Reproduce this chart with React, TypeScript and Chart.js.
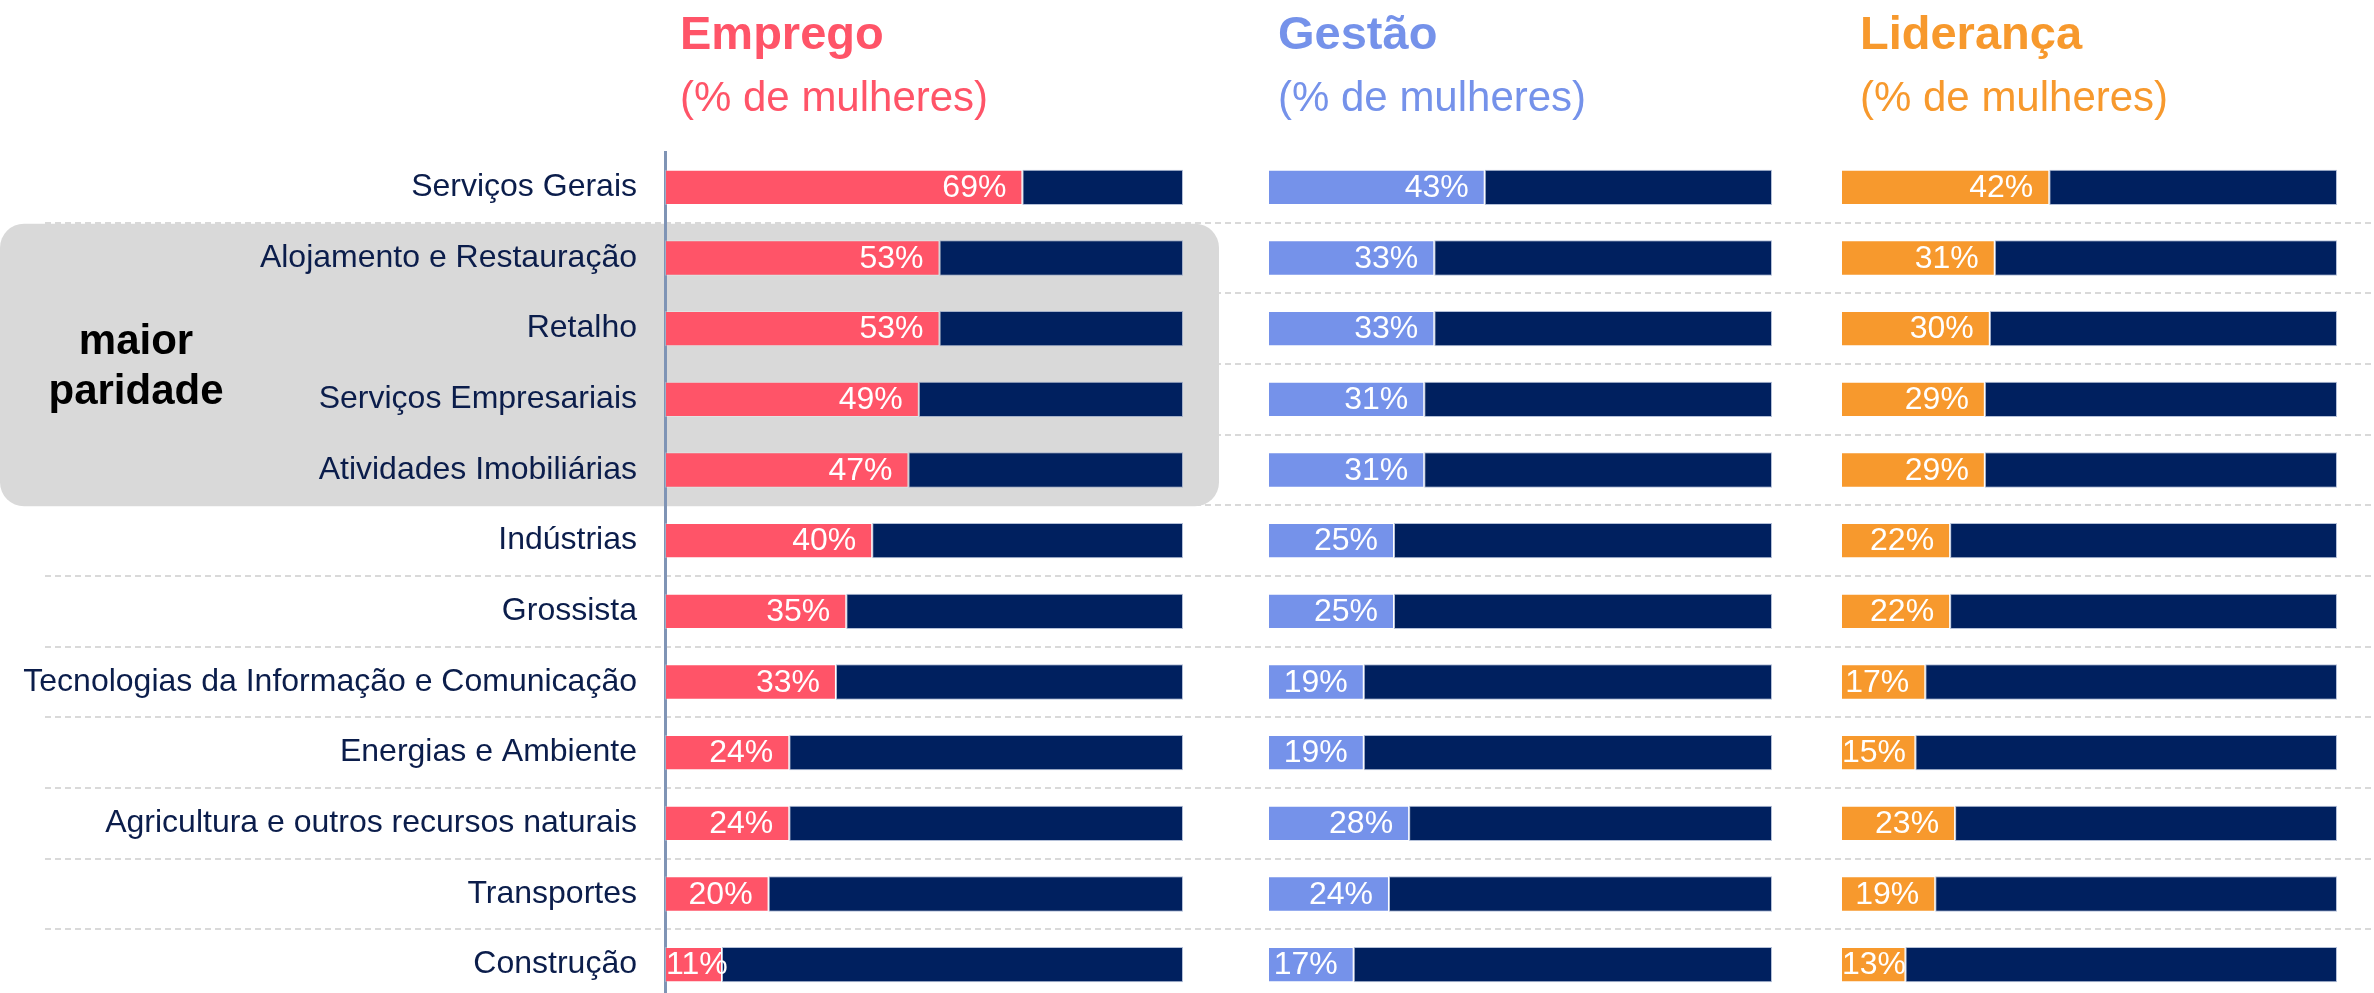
import React, { useEffect, useRef } from 'react';
import { Chart, registerables } from 'chart.js';

Chart.register(...registerables);

const categories = [
  'Serviços Gerais',
  'Alojamento e Restauração',
  'Retalho',
  'Serviços Empresariais',
  'Atividades Imobiliárias',
  'Indústrias',
  'Grossista',
  'Tecnologias da Informação e Comunicação',
  'Energias e Ambiente',
  'Agricultura e outros recursos naturais',
  'Transportes',
  'Construção',
];

const empregoValues = [69, 53, 53, 49, 47, 40, 35, 33, 24, 24, 20, 11];
const gestaoValues = [43, 33, 33, 31, 31, 25, 25, 19, 19, 28, 24, 17];
const liderancaValues = [42, 31, 30, 29, 29, 22, 22, 17, 15, 23, 19, 13];

const panelTitles = ['Emprego', 'Gestão', 'Liderança'];
const panelSubtitle = '(% de mulheres)';
const highlightText = ['maior', 'paridade'];
const highlightFirstRow = 1;
const highlightLastRow = 4;

const FONT = '"Liberation Sans", Arial, Helvetica, sans-serif';
const NAVY = '#00205f';
const LABEL_COLOR = '#0b1d4b';
const AXIS_COLOR = '#7f94b5';
const GRID_COLOR = '#d9d9d9';
const BOX_COLOR = '#d9d9d9';

const panels = [
  { id: 'xE', title: panelTitles[0], values: empregoValues, color: '#ff5468', max: 116.41, weight: 603, titleOffset: 15 },
  { id: 'xG', title: panelTitles[1], values: gestaoValues, color: '#7592ea', max: 113.69, weight: 573, titleOffset: 10 },
  { id: 'xL', title: panelTitles[2], values: liderancaValues, color: '#f7992d', max: 107.46, weight: 533, titleOffset: 19 },
];

const backgroundPlugin = {
  id: 'bgDecor',
  beforeDraw(chart: any) {
    const { ctx } = chart;
    const y = chart.scales.y;
    const seps: number[] = [];
    for (let i = 0; i < categories.length - 1; i++) {
      seps.push((y.getPixelForValue(i) + y.getPixelForValue(i + 1)) / 2);
    }
    ctx.save();
    ctx.strokeStyle = GRID_COLOR;
    ctx.lineWidth = 2;
    ctx.setLineDash([6, 4]);
    seps.forEach((s) => {
      ctx.beginPath();
      ctx.moveTo(45, Math.round(s));
      ctx.lineTo(chart.width, Math.round(s));
      ctx.stroke();
    });
    ctx.setLineDash([]);
    // highlight box
    const top = seps[highlightFirstRow - 1] + 1;
    const bottom = seps[highlightLastRow] + 1;
    const right = chart.scales.xE.getPixelForValue(100) + 36;
    ctx.fillStyle = BOX_COLOR;
    ctx.beginPath();
    (ctx as any).roundRect(0, top, right, bottom - top, 24);
    ctx.fill();
    const cy = (top + bottom) / 2;
    ctx.fillStyle = '#000000';
    ctx.font = `bold 42px ${FONT}`;
    ctx.textAlign = 'center';
    ctx.textBaseline = 'alphabetic';
    ctx.fillText(highlightText[0], 136, cy - 11);
    ctx.fillText(highlightText[1], 136, cy + 39);
    ctx.restore();
  },
};

const labelsPlugin = {
  id: 'shareLabels',
  afterDatasetsDraw(chart: any) {
    const { ctx } = chart;
    ctx.save();
    ctx.font = `32px ${FONT}`;
    ctx.fillStyle = '#ffffff';
    ctx.textAlign = 'left';
    ctx.textBaseline = 'middle';
    chart.data.datasets.forEach((ds: any, i: number) => {
      if (!ds.isShare) return;
      const meta = chart.getDatasetMeta(i);
      meta.data.forEach((bar: any, j: number) => {
        const text = `${ds.data[j]}%`;
        const w = ctx.measureText(text).width;
        const start = Math.min(bar.base, bar.x);
        const end = Math.max(bar.base, bar.x);
        const x = Math.max(start + 1, end - 16 - w);
        ctx.fillText(text, x, bar.y + 1);
      });
    });
    ctx.restore();
  },
  afterDraw(chart: any) {
    const { ctx } = chart;
    ctx.save();
    ctx.textAlign = 'left';
    ctx.textBaseline = 'alphabetic';
    panels.forEach((p) => {
      const left = chart.scales[p.id].getPixelForValue(0) + p.titleOffset;
      ctx.fillStyle = p.color;
      ctx.font = `bold 47px ${FONT}`;
      ctx.fillText(p.title, left, 49);
      ctx.font = `42px ${FONT}`;
      ctx.fillText(panelSubtitle, left, 111);
    });
    ctx.restore();
  },
};

export default function App() {
  const canvasRef = useRef<HTMLCanvasElement | null>(null);

  useEffect(() => {
    document.body.style.margin = '0';
    document.body.style.overflow = 'hidden';
    const canvas = canvasRef.current;
    if (!canvas) return;

    const datasets: any[] = [];
    panels.forEach((p) => {
      datasets.push({
        label: p.title,
        data: p.values,
        xAxisID: p.id,
        yAxisID: 'y',
        stack: 'all',
        isShare: true,
        backgroundColor: p.color,
        borderColor: 'rgba(255,255,255,0.25)',
        borderWidth: 1,
        borderSkipped: false,
        barPercentage: 0.5,
        categoryPercentage: 1,
      });
      datasets.push({
        label: p.title + ' (homens)',
        data: p.values.map((v) => 100 - v),
        xAxisID: p.id,
        yAxisID: 'y',
        stack: 'all',
        backgroundColor: NAVY,
        borderColor: 'rgba(130,150,190,0.6)',
        borderWidth: 1,
        borderSkipped: false,
        barPercentage: 0.5,
        categoryPercentage: 1,
      });
    });

    const scales: any = {
      y: {
        type: 'category',
        stacked: true,
        offset: true,
        grid: { display: false, drawTicks: false },
        border: { display: true, color: AXIS_COLOR, width: 3 },
        ticks: {
          color: LABEL_COLOR,
          font: { family: FONT, size: 32 },
          padding: 28,
          autoSkip: false,
        },
        afterFit: (s: any) => {
          s.width = 665;
          s.paddingTop = 0;
          s.paddingBottom = 0;
        },
      },
    };
    panels.forEach((p) => {
      scales[p.id] = {
        type: 'linear',
        axis: 'x',
        position: 'bottom',
        stack: 'panels',
        stackWeight: p.weight,
        min: 0,
        max: p.max,
        stacked: true,
        display: false,
      };
    });

    const chart = new Chart(canvas, {
      type: 'bar',
      data: { labels: categories, datasets },
      options: {
        indexAxis: 'y',
        responsive: false,
        animation: false,
        devicePixelRatio: 1,
        layout: { padding: { top: 152, left: 0, right: 0, bottom: 0 } },
        plugins: {
          legend: { display: false },
          tooltip: { enabled: false },
        },
        scales,
      } as any,
      plugins: [backgroundPlugin, labelsPlugin],
    });

    return () => {
      chart.destroy();
    };
  }, []);

  return (
    <div style={{ width: 2374, height: 993, overflow: 'hidden', position: 'relative', background: '#ffffff' }}>
      <canvas ref={canvasRef} width={2374} height={1000} style={{ display: 'block' }} />
    </div>
  );
}
